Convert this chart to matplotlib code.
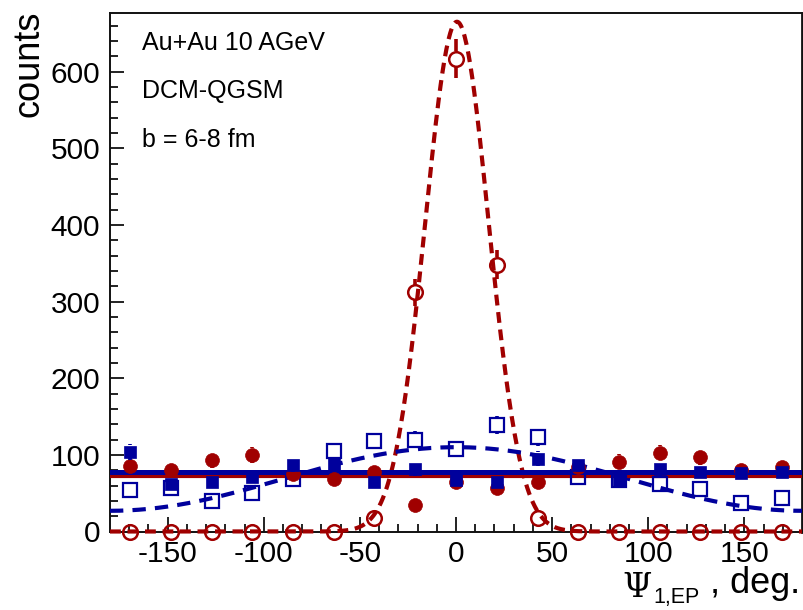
import numpy as np
import matplotlib
matplotlib.use("Agg")
import matplotlib.pyplot as plt

plt.rcParams["font.family"] = ["Liberation Sans", "DejaVu Sans"]
plt.rcParams["axes.unicode_minus"] = False

# Event-plane angle bin centres (deg), 17 bins over [-180, 180]
phi = [-169.4, -148.2, -127.1, -105.9, -84.7, -63.5, -42.4, -21.2, 0.0,
       21.2, 42.4, 63.5, 84.7, 105.9, 127.1, 148.2, 169.4]

# Counts per bin for the four distributions
open_circles = [0, 0, 0, 0, 0, 0, 18, 312, 617, 348, 18, 0, 0, 0, 0, 0, 0]
open_squares = [54, 57, 40, 50, 69, 105, 118, 120, 108, 139, 123, 71, 67, 62, 55, 37, 44]
full_squares = [104, 62, 65, 71, 87, 88, 65, 82, 67, 64, 95, 87, 67, 82, 78, 76, 78]
full_circles = [86, 80, 93, 100, 75, 69, 78, 34, 65, 57, 65, 84, 91, 103, 97, 80, 84]

# Fit parameters
gauss_amp, gauss_mean, gauss_sigma = 665.0, 0.5, 16.5
cos_const, cos_amp = 68.5, 41.5
flat_blue, flat_red = 75.5, 72.0

RED = "#a00000"
BLUE = "#00009c"

W, H = 804, 610
fig = plt.figure(figsize=(W / 100, H / 100), dpi=100)
ax = fig.add_axes([110 / W, 1 - 531.5 / H, (802 - 110) / W, (531.5 - 13.3) / H])
ax.set_xlim(-180, 180)
ax.set_ylim(0, 676)

xs = np.linspace(-180, 180, 721)
phi_arr = np.array(phi)

# Gaussian fit to the reaction-plane-correlated distribution
gauss = gauss_amp * np.exp(-0.5 * ((xs - gauss_mean) / gauss_sigma) ** 2)
ax.plot(xs, gauss, color=RED, lw=3.0, ls=(0, (2.6, 1.6)), zorder=3, clip_on=False)

# Cosine fit
cosfit = cos_const + cos_amp * np.cos(np.radians(xs))
ax.plot(xs, cosfit, color=BLUE, lw=3.0, ls=(0, (3.2, 2.2)), zorder=3)

# Flat fits
ax.plot([-180, 180], [flat_red, flat_red], color=RED, lw=3.0, zorder=4)
ax.plot([-180, 180], [flat_blue + 1.5, flat_blue + 1.5], color=BLUE, lw=3.6, zorder=5)


def error_bars(values, color, radius_px, z):
    """Vertical sqrt(N) error bars that stop at the marker edge."""
    fig.canvas.draw()
    p0 = ax.transData.transform((0, 0))[1]
    p1 = ax.transData.transform((0, 100))[1]
    gap = radius_px * 100.0 / (p1 - p0)
    v = np.array(values, dtype=float)
    err = np.sqrt(v)
    for x, y, e in zip(phi_arr, v, err):
        if e > gap:
            ax.vlines(x, y + gap, y + e, color=color, lw=2.6, zorder=z)
            ax.vlines(x, y - e, y - gap, color=color, lw=2.6, zorder=z)


error_bars(open_circles, RED, 7.5, 6)
error_bars(open_squares, BLUE, 6.5, 6)
error_bars(full_circles, RED, 7.0, 6)
error_bars(full_squares, BLUE, 6.5, 7)

ax.plot(phi, open_circles, ls="none", marker="o", ms=10.5, mfc="none",
        mec=RED, mew=1.8, zorder=6, clip_on=False)
ax.plot(phi, open_squares, ls="none", marker="s", ms=9.5, mfc="none",
        mec=BLUE, mew=1.6, zorder=6)
ax.plot(phi, full_circles, ls="none", marker="o", ms=10.0, mfc=RED,
        mec=RED, mew=0.5, zorder=6)
ax.plot(phi, full_squares, ls="none", marker="s", ms=9.0, mfc=BLUE,
        mec=BLUE, mew=0.5, zorder=7)

# Axes styling
for side in ["left", "bottom", "top", "right"]:
    ax.spines[side].set_linewidth(1.4)
    ax.spines[side].set_color("#111111")
ax.spines["right"].set_linewidth(2.0)

ax.set_xticks([-150, -100, -50, 0, 50, 100, 150])
ax.set_xticks(np.arange(-170, 180, 10), minor=True)
ax.set_yticks(np.arange(0, 700, 100))
ax.set_yticks(np.arange(0, 680, 20), minor=True)
ax.tick_params(axis="both", which="both", direction="in", top=False, right=False,
               width=1.3, labelsize=21.5, color="#111111")
ax.tick_params(axis="x", which="major", length=11, pad=6)
ax.tick_params(axis="x", which="minor", length=6)
ax.tick_params(axis="y", which="major", length=10, pad=7)
ax.tick_params(axis="y", which="minor", length=6)

# Axis titles
fig.text(12 / W, 1 - 11 / H, "counts", rotation=90, ha="left", va="top",
         fontsize=26)
fig.text(622 / W, 1 - 597 / H, "\u03a8", family="DejaVu Serif", fontsize=24,
         va="baseline", ha="left")
fig.text(653 / W, 1 - 603 / H, "1,EP", fontsize=15.5, va="baseline", ha="left")
fig.text(800 / W, 1 - 593 / H, ", deg.", fontsize=26, va="baseline", ha="right")

# Collision labels
fig.text(142 / W, 1 - 50 / H, "Au+Au 10 AGeV", fontsize=18, va="baseline")
fig.text(142 / W, 1 - 98 / H, "DCM-QGSM", fontsize=18, va="baseline")
fig.text(142 / W, 1 - 147 / H, "b = 6-8 fm", fontsize=18, va="baseline")

fig.savefig("out.png", dpi=100)
